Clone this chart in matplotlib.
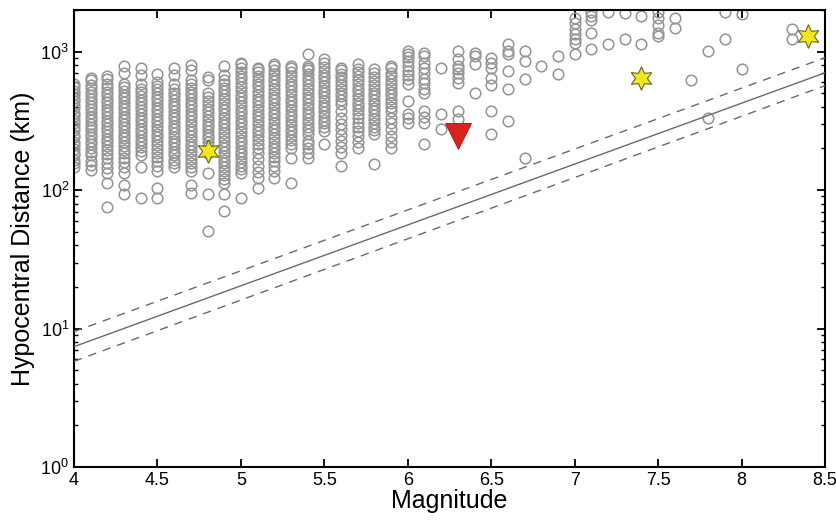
import matplotlib
matplotlib.use("Agg")
import matplotlib.pyplot as plt
from matplotlib.ticker import LogLocator, FixedLocator

plt.rcParams['font.family'] = ['Liberation Sans', 'DejaVu Sans']
plt.rcParams['mathtext.fontset'] = 'custom'
plt.rcParams['mathtext.rm'] = 'Liberation Sans'

# ---- data: hypocentral distance (km) of records, per magnitude column ----
m40 = [148, 157, 166, 178, 186, 199, 212, 222, 240, 252, 270, 284, 305, 322, 345, 362, 390, 410, 440, 462, 498, 522, 560, 586]
m41 = [140, 152, 163, 178, 190, 203, 214, 228, 241, 256, 270, 287, 302, 322, 340, 362, 383, 408, 430, 458, 484, 515, 545, 578, 620, 648]
m42 = [75, 113, 132, 145, 158, 172, 183, 196, 208, 222, 235, 250, 266, 282, 300, 318, 338, 360, 381, 405, 430, 458, 486, 515, 550, 586, 640, 670]
m43 = [94, 108, 134, 146, 160, 172, 184, 195, 210, 222, 238, 252, 268, 285, 302, 320, 340, 362, 384, 408, 432, 460, 488, 518, 552, 586, 700, 791]
m44 = [87, 146, 180, 192, 204, 218, 231, 246, 262, 278, 296, 314, 334, 355, 376, 400, 424, 450, 478, 508, 540, 586, 680, 765]
m45 = [87, 104, 138, 150, 162, 174, 186, 198, 212, 226, 240, 256, 272, 290, 308, 328, 348, 370, 394, 418, 444, 472, 502, 534, 568, 604, 695]
m46 = [146, 156, 166, 178, 190, 202, 215, 228, 243, 258, 275, 292, 310, 330, 350, 372, 396, 421, 448, 476, 506, 538, 586, 680, 765]
m47 = [96, 108, 138, 148, 158, 168, 180, 192, 204, 217, 230, 245, 261, 278, 296, 315, 335, 356, 378, 402, 428, 455, 484, 515, 548, 584, 620, 740, 805]
m48 = [51, 94, 132, 184, 196, 208, 222, 236, 251, 267, 284, 302, 321, 342, 364, 387, 412, 440, 470, 507, 620, 659]
m49 = [71, 94, 112, 120, 128, 137, 146, 156, 166, 177, 188, 200, 213, 227, 242, 258, 275, 293, 312, 332, 353, 376, 400, 426, 454, 484, 516, 550, 586, 620, 680, 791]
m50 = [87, 132, 141, 150, 160, 170, 181, 193, 205, 218, 232, 247, 263, 280, 298, 317, 337, 359, 382, 406, 432, 460, 490, 522, 556, 592, 630, 672, 716, 764, 818, 830]
m51 = [104, 123, 135, 150, 168, 184, 203, 216, 230, 245, 261, 278, 296, 315, 335, 357, 380, 404, 430, 458, 488, 520, 553, 589, 627, 668, 710, 753, 765]
m52 = [123, 138, 150, 163, 174, 185, 197, 210, 224, 238, 253, 270, 287, 306, 326, 347, 369, 393, 418, 445, 474, 505, 537, 572, 609, 648, 690, 735, 782, 818]
m53 = [112, 172, 203, 216, 230, 245, 261, 278, 296, 315, 335, 357, 380, 404, 430, 458, 488, 520, 553, 589, 627, 668, 712, 765, 791]
m54 = [172, 186, 200, 214, 228, 254, 270, 287, 306, 326, 347, 369, 393, 418, 445, 474, 505, 537, 572, 609, 648, 690, 735, 765, 791, 966]
m55 = [217, 268, 285, 303, 323, 344, 366, 390, 415, 442, 470, 500, 532, 566, 603, 642, 683, 727, 774, 830, 889]
m56 = [150, 184, 205, 228, 250, 278, 300, 330, 375, 420, 447, 476, 507, 540, 575, 612, 652, 694, 739, 765]
m57 = [203, 222, 245, 268, 288, 303, 333, 355, 378, 402, 428, 456, 486, 517, 551, 586, 624, 665, 708, 754, 818]
m58 = [155, 254, 270, 288, 306, 326, 347, 370, 394, 419, 446, 475, 506, 539, 574, 611, 651, 705, 753]
m59 = [203, 222, 248, 275, 305, 333, 375, 400, 426, 454, 483, 514, 548, 584, 622, 662, 705, 765, 791]
m60 = [303, 330, 355, 443, 586, 630, 680, 730, 790, 850, 910, 966, 1015]
m61 = [217, 303, 335, 375, 500, 540, 590, 640, 700, 760, 830, 930, 980]
m62 = [278, 357, 765]
m63 = [327, 375, 594, 648, 705, 750, 791, 888, 1015]
m64 = [507, 818, 930, 980]
m65 = [254, 375, 570, 648, 765, 830, 905]
m66 = [317, 540, 725, 966, 1015, 1135]
m67 = [172, 640, 860, 1015]
m68 = [791]
m69 = [695, 930]
m70 = [966, 1160, 1240, 1346, 1462, 1616, 1755]
m71 = [1050, 1370, 1700, 1820, 1950]
m72 = [1135, 1950]
m73 = [1240, 1900]
m74 = [1135, 1820]
m75 = [1300, 1370, 1560, 1755, 1950]
m76 = [1490, 1755]
m77 = [620]
m78 = [333, 1015]
m79 = [1240, 1950]
m80 = [750, 1880]
m83 = [1240, 1460]

col_mags = [4.0, 4.1, 4.2, 4.3, 4.4, 4.5, 4.6, 4.7, 4.8, 4.9, 5.0, 5.1, 5.2, 5.3, 5.4,
            5.5, 5.6, 5.7, 5.8, 5.9, 6.0, 6.1, 6.2, 6.3, 6.4, 6.5, 6.6, 6.7, 6.8, 6.9,
            7.0, 7.1, 7.2, 7.3, 7.4, 7.5, 7.6, 7.7, 7.8, 7.9, 8.0, 8.3]
col_dists = [m40, m41, m42, m43, m44, m45, m46, m47, m48, m49, m50, m51, m52, m53, m54,
             m55, m56, m57, m58, m59, m60, m61, m62, m63, m64, m65, m66, m67, m68, m69,
             m70, m71, m72, m73, m74, m75, m76, m77, m78, m79, m80, m83]

star_mag = [4.8, 7.4, 8.4]
star_dist = [193, 648, 1300]
tri_mag = [6.3]
tri_dist = [248]

line_mag = [4.0, 8.5]
fit_mid = [7.4, 704]
fit_hi = [9.5, 904]
fit_lo = [5.8, 568]

xticks = [4, 4.5, 5, 5.5, 6, 6.5, 7, 7.5, 8, 8.5]
xticklabels = ['4', '4.5', '5', '5.5', '6', '6.5', '7', '7.5', '8', '8.5']

# ---- plot ----
fig = plt.figure(figsize=(8.37, 5.21), dpi=100)
ax = fig.add_axes([74/837, 54/521, (825-74)/837, (467-10)/521])

xs, ys = [], []
for m, ds in zip(col_mags, col_dists):
    xs.extend([m] * len(ds))
    ys.extend(ds)
ax.plot(xs, ys, linestyle='none', marker='o', markersize=7.6, markerfacecolor='none',
        markeredgecolor='#969696', markeredgewidth=1.15, zorder=2)

ax.plot(line_mag, fit_mid, color='#6a6a6a', lw=1.0, zorder=3)
ax.plot(line_mag, fit_hi, color='#6a6a6a', lw=1.0, ls=(0, (6, 5)), zorder=3)
ax.plot(line_mag, fit_lo, color='#6a6a6a', lw=1.0, ls=(0, (6, 5)), zorder=3)

ax.plot(star_mag, star_dist, linestyle='none', marker=(6, 1, 0), markersize=17,
        markerfacecolor='#f2e620', markeredgecolor='#6b6420', markeredgewidth=0.8, zorder=5)
ax.plot(tri_mag, tri_dist, linestyle='none', marker='v', markersize=19,
        markerfacecolor='#d8231f', markeredgecolor='#a01818', markeredgewidth=0.6, zorder=5)

ax.set_yscale('log')
ax.set_xlim(4, 8.5)
ax.set_ylim(1, 2000)
ax.set_xticks(xticks)
ax.set_xticklabels(xticklabels)
ax.yaxis.set_major_locator(FixedLocator([1, 10, 100, 1000]))
ax.yaxis.set_minor_locator(LogLocator(base=10, subs=range(2, 10), numticks=20))

ax.tick_params(which='both', direction='in', top=True, right=True, labelsize=13, width=1.3)
ax.tick_params(which='major', length=6)
ax.tick_params(which='minor', length=3, width=1.0)
for s in ax.spines.values():
    s.set_linewidth(1.5)

ax.set_xlabel('Magnitude', fontsize=18, labelpad=0)
ax.set_ylabel('Hypocentral Distance (km)', fontsize=18, labelpad=4)

fig.savefig('out.png', dpi=100)
